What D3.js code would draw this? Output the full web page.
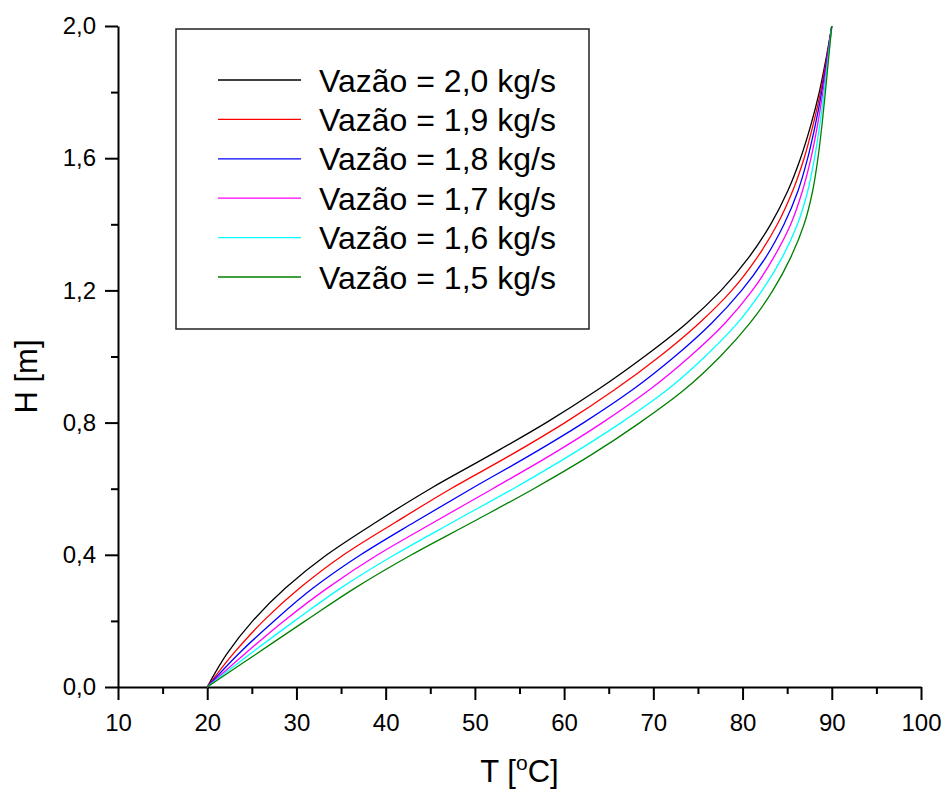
<!DOCTYPE html>
<html>
<head>
<meta charset="utf-8">
<script src="https://cdn.jsdelivr.net/npm/d3@7"></script>
<style>
  body { margin: 0; background: #fff; }
  svg { font-family: "Liberation Sans", Arial, sans-serif; }
</style>
</head>
<body>
<div id="myChart"></div>
<script>
// H [m] levels at which the temperature of each curve was read
const heights = [0.0, 0.1, 0.2, 0.3, 0.4, 0.5, 0.6, 0.7, 0.8, 0.9, 1.0,
                 1.1, 1.2, 1.3, 1.4, 1.5, 1.6, 1.7, 1.8, 1.9, 2.0];

// T [oC] for each flow rate
const t20 = [20.0, 22.2, 25.1, 28.8, 33.4, 39.0, 45.0, 51.6, 58.0, 63.8, 69.0,
             73.7, 77.6, 80.7, 83.15, 85.05, 86.5, 87.65, 88.6, 89.35, 90.0];
const t19 = [20.0, 22.9, 26.3, 30.4, 35.3, 41.2, 47.3, 53.9, 60.1, 65.7, 70.7,
             75.1, 78.8, 81.65, 83.9, 85.6, 86.9, 87.9, 88.74, 89.41, 90.0];
const t18 = [20.0, 23.5, 27.5, 31.9, 37.2, 43.3, 49.6, 56.1, 62.2, 67.7, 72.4,
             76.5, 79.9, 82.6, 84.65, 86.2, 87.3, 88.15, 88.87, 89.47, 90.0];
const t17 = [20.0, 24.2, 28.6, 33.5, 39.1, 45.5, 52.0, 58.4, 64.3, 69.6, 74.1,
             78.0, 81.1, 83.5, 85.4, 86.7, 87.67, 88.4, 89.0, 89.52, 90.0];
const t16 = [20.0, 24.8, 29.8, 35.0, 41.0, 47.6, 54.3, 60.6, 66.4, 71.6, 75.8,
             79.4, 82.2, 84.45, 86.15, 87.3, 88.06, 88.65, 89.14, 89.58, 90.0];
const t15 = [20.0, 25.5, 31.0, 36.6, 42.9, 49.8, 56.6, 62.9, 68.5, 73.5, 77.5,
             80.8, 83.4, 85.4, 86.9, 87.85, 88.45, 88.9, 89.28, 89.64, 90.0];

const seriesNames = ["Vazão = 2,0 kg/s", "Vazão = 1,9 kg/s", "Vazão = 1,8 kg/s",
                     "Vazão = 1,7 kg/s", "Vazão = 1,6 kg/s", "Vazão = 1,5 kg/s"];
const seriesColors = ["#000000", "#ff0000", "#0000ff", "#ff00ff", "#00ffff", "#008000"];
const seriesValues = [t20, t19, t18, t17, t16, t15];

const xTicks = [10, 20, 30, 40, 50, 60, 70, 80, 90, 100];
const xMinor = [15, 25, 35, 45, 55, 65, 75, 85, 95];
const yTicks = [0.0, 0.4, 0.8, 1.2, 1.6, 2.0];
const yTickLabels = ["0,0", "0,4", "0,8", "1,2", "1,6", "2,0"];
const yMinor = [0.2, 0.6, 1.0, 1.4, 1.8];

let margin = { top: 26, right: 24, bottom: 105, left: 118 },
    width = 945 - margin.left - margin.right,
    height = 792 - margin.top - margin.bottom;

let root = d3.select("#myChart").append("svg")
  .attr("width", 945)
  .attr("height", 792);

let svg = root.append("g")
  .attr("transform", "translate(" + margin.left + "," + margin.top + ")");

let x = d3.scaleLinear().domain([10, 100]).range([0, width]);
let y = d3.scaleLinear().domain([0, 2]).range([height, 0]);

function styleAxis(g, size) {
  g.selectAll("path.domain").attr("stroke", "#000").attr("stroke-width", 2);
  g.selectAll("line").attr("stroke", "#000").attr("stroke-width", 2);
  g.selectAll("text").attr("font-size", size).attr("fill", "#000")
    .attr("font-family", "Liberation Sans, Arial, sans-serif");
}

// minor ticks
svg.append("g")
  .attr("transform", "translate(0," + height + ")")
  .call(d3.axisBottom(x).tickValues(xMinor).tickSize(7).tickFormat(""))
  .call(g => { g.select(".domain").remove(); styleAxis(g, 24); });
svg.append("g")
  .call(d3.axisLeft(y).tickValues(yMinor).tickSize(7).tickFormat(""))
  .call(g => { g.select(".domain").remove(); styleAxis(g, 24); });

// x axis
svg.append("g")
  .attr("transform", "translate(0," + height + ")")
  .call(d3.axisBottom(x).tickValues(xTicks).tickSize(13).tickSizeOuter(0).tickPadding(14))
  .call(g => styleAxis(g, 24));

// y axis
svg.append("g")
  .call(d3.axisLeft(y).tickValues(yTicks).tickSize(13).tickSizeOuter(0).tickPadding(9)
    .tickFormat((d, i) => yTickLabels[i]))
  .call(g => styleAxis(g, 24));

// axis titles
let xTitle = svg.append("text")
  .attr("x", width / 2)
  .attr("y", height + 95)
  .attr("text-anchor", "middle")
  .attr("font-size", 31);
xTitle.append("tspan").text("T [");
xTitle.append("tspan").text("o").attr("font-size", 21).attr("dy", -12);
xTitle.append("tspan").text("C]").attr("dy", 12);

svg.append("text")
  .attr("transform", "translate(" + (-81) + "," + (height / 2 + 20) + ") rotate(-90)")
  .attr("text-anchor", "middle")
  .attr("font-size", 31)
  .text("H [m]");

// curves
let line = d3.line()
  .x(d => x(d[0]))
  .y(d => y(d[1]))
  .curve(d3.curveMonotoneY);

seriesValues.forEach((vals, i) => {
  svg.append("path")
    .datum(vals.map((t, k) => [t, heights[k]]))
    .attr("fill", "none")
    .attr("stroke", seriesColors[i])
    .attr("stroke-width", 1.3)
    .attr("d", line);
});

// legend
let legend = root.append("g").attr("transform", "translate(176,29)");
legend.append("rect")
  .attr("width", 413)
  .attr("height", 300)
  .attr("fill", "#fff")
  .attr("stroke", "#222")
  .attr("stroke-width", 1.5);

seriesNames.forEach((name, i) => {
  let row = legend.append("g").attr("transform", "translate(0," + (51 + i * 39.4) + ")");
  row.append("line")
    .attr("x1", 42).attr("x2", 125)
    .attr("stroke", seriesColors[i])
    .attr("stroke-width", 1.3);
  row.append("text")
    .attr("x", 143)
    .attr("y", 11.5)
    .attr("font-size", 32)
    .text(name);
});
</script>
</body>
</html>
